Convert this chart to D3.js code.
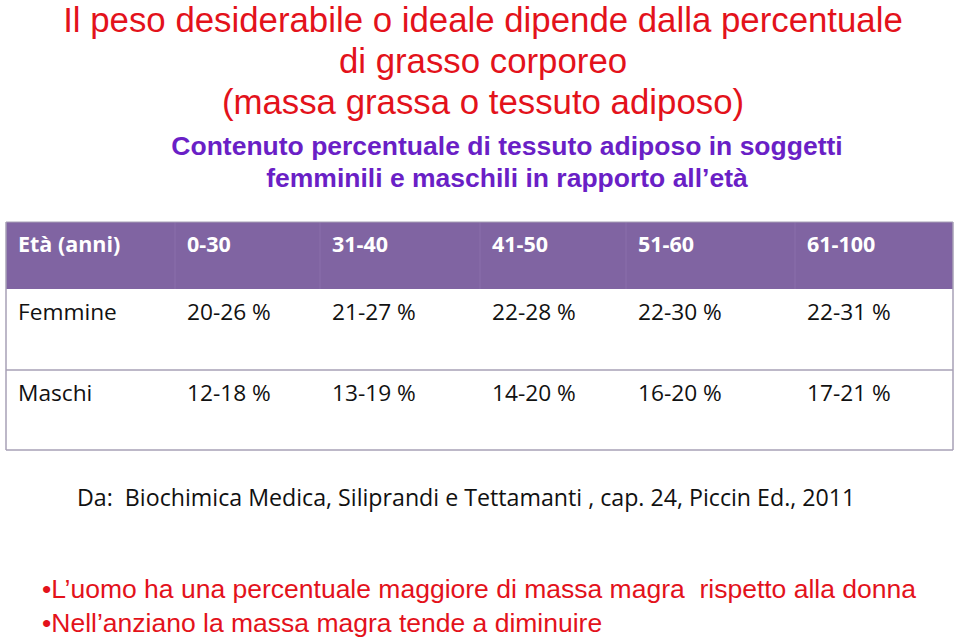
<!DOCTYPE html>
<html>
<head>
<meta charset="utf-8">
<script src="https://cdn.jsdelivr.net/npm/d3@7"></script>
<style>
  body { margin: 0; background: #fff; }
  svg { display: block; }
  text { white-space: pre; }
</style>
</head>
<body>
<svg width="959" height="642"></svg>
<script>
const width = 959;
const height = 642;

const titleLines = [
  "Il peso desiderabile o ideale dipende dalla percentuale",
  "di grasso corporeo",
  "(massa grassa o tessuto adiposo)"
];
const subtitleLines = [
  "Contenuto percentuale di tessuto adiposo in soggetti",
  "femminili e maschili in rapporto all\u2019età"
];
const headerLabel = "Età (anni)";
const ageGroups = ["0-30", "31-40", "41-50", "51-60", "61-100"];
const rowLabels = ["Femmine", "Maschi"];
const femmine = ["20-26 %", "21-27 %", "22-28 %", "22-30 %", "22-31 %"];
const maschi = ["12-18 %", "13-19 %", "14-20 %", "16-20 %", "17-21 %"];
const source = "Da:  Biochimica Medica, Siliprandi e Tettamanti , cap. 24, Piccin Ed., 2011";
const notes = [
  "\u2022L\u2019uomo ha una percentuale maggiore di massa magra  rispetto alla donna",
  "\u2022Nell\u2019anziano la massa magra tende a diminuire"
];

const red = "#e3121b";
const purple = "#6a1fc6";
const headFill = "#8064a2";
const lineColor = "#a7a0b6";
const calibri = "'Open Sans', sans-serif";
const arial = "'Liberation Sans', Arial, sans-serif";

const svg = d3.select("svg");

// Title
svg.append("g").selectAll("text")
  .data(titleLines)
  .enter()
  .append("text")
  .attr("x", 483)
  .attr("y", (d, i) => 31.5 + i * 41.3)
  .attr("text-anchor", "middle")
  .attr("font-family", arial)
  .attr("font-size", 34.8)
  .attr("fill", red)
  .text(d => d);

svg.append("g").selectAll("text")
  .data(subtitleLines)
  .enter()
  .append("text")
  .attr("x", 507)
  .attr("y", (d, i) => 155 + i * 32)
  .attr("text-anchor", "middle")
  .attr("font-family", arial)
  .attr("font-weight", "bold")
  .attr("font-size", 26.5)
  .attr("fill", purple)
  .text(d => d);

// Table
const columns = ["label"].concat(ageGroups);
const x = d3.scaleOrdinal()
  .domain(columns)
  .range([6, 175, 320, 480, 626, 795]);
const tableRight = 953;

const rows = ["header"].concat(rowLabels);
const y = d3.scaleOrdinal()
  .domain(rows)
  .range([222, 289, 370]);
const rowH = d3.scaleOrdinal()
  .domain(rows)
  .range([67, 81, 80]);

const table = svg.append("g");

table.append("rect")
  .attr("x", x("label"))
  .attr("y", y("header"))
  .attr("width", tableRight - x("label"))
  .attr("height", rowH("header"))
  .attr("fill", headFill);

// faint header column separators
table.selectAll(".sep")
  .data(ageGroups)
  .enter()
  .append("line")
  .attr("class", "sep")
  .attr("x1", d => x(d))
  .attr("x2", d => x(d))
  .attr("y1", y("header"))
  .attr("y2", y("header") + rowH("header"))
  .attr("stroke", "#8a6fab")
  .attr("stroke-width", 1);

// row lines
table.selectAll(".hline")
  .data(rowLabels)
  .enter()
  .append("line")
  .attr("class", "hline")
  .attr("x1", x("label"))
  .attr("x2", tableRight)
  .attr("y1", d => y(d) + rowH(d))
  .attr("y2", d => y(d) + rowH(d))
  .attr("stroke", lineColor)
  .attr("stroke-width", 1.5);

table.selectAll(".vline")
  .data([x("label"), tableRight])
  .enter()
  .append("line")
  .attr("class", "vline")
  .attr("x1", d => d)
  .attr("x2", d => d)
  .attr("y1", y("header"))
  .attr("y2", y("Maschi") + rowH("Maschi"))
  .attr("stroke", lineColor)
  .attr("stroke-width", 1.5);

table.append("line")
  .attr("x1", x("label"))
  .attr("x2", tableRight)
  .attr("y1", y("header"))
  .attr("y2", y("header"))
  .attr("stroke", lineColor)
  .attr("stroke-width", 1);

// header text
const headCells = [headerLabel].concat(ageGroups);
table.selectAll(".head")
  .data(headCells)
  .enter()
  .append("text")
  .attr("class", "head")
  .attr("x", (d, i) => x(columns[i]) + 12)
  .attr("y", y("header") + 30)
  .attr("font-family", calibri)
  .attr("font-weight", "bold")
  .attr("font-size", 21.5)
  .attr("fill", "#fff")
  .text(d => d);

// body text
const bodyRows = [
  [rowLabels[0]].concat(femmine),
  [rowLabels[1]].concat(maschi)
];
bodyRows.forEach((cells, r) => {
  table.selectAll(".body" + r)
    .data(cells)
    .enter()
    .append("text")
    .attr("class", "body" + r)
    .attr("x", (d, i) => x(columns[i]) + 12)
    .attr("y", y(rowLabels[r]) + 31)
    .attr("font-family", calibri)
    .attr("font-size", 22.7)
    .attr("fill", "#111")
    .text(d => d);
});

// Source
svg.append("text")
  .attr("x", 77)
  .attr("y", 506)
  .attr("font-family", calibri)
  .attr("font-size", 23.2)
  .attr("fill", "#111")
  .text(source);

// Notes
svg.append("g").selectAll("text")
  .data(notes)
  .enter()
  .append("text")
  .attr("x", 42)
  .attr("y", (d, i) => 598 + i * 34)
  .attr("font-family", arial)
  .attr("font-size", 26.5)
  .attr("fill", red)
  .text(d => d);
</script>
</body>
</html>
